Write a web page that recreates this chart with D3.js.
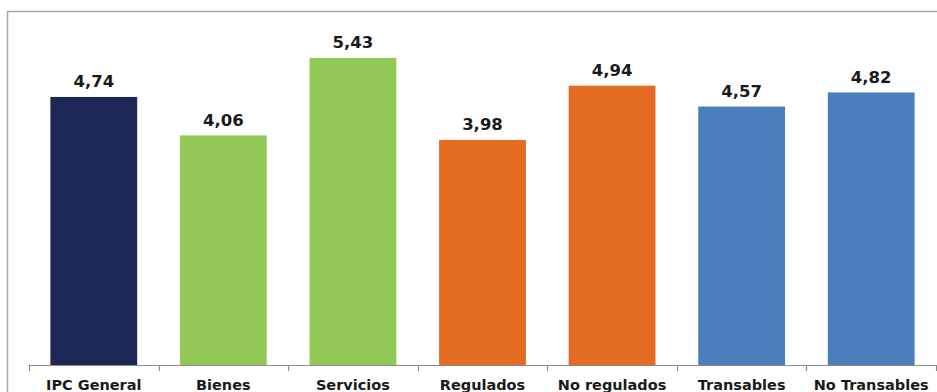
<!DOCTYPE html>
<html>
<head>
<meta charset="utf-8">
<script src="https://cdn.jsdelivr.net/npm/d3@7"></script>
<style>
  html, body { margin: 0; padding: 0; background: #ffffff; }
  svg { display: block; }
</style>
</head>
<body>
<script>
// Inflation by component
const categories = ["IPC General", "Bienes", "Servicios", "Regulados", "No regulados", "Transables", "No Transables"];
const values = [4.74, 4.06, 5.43, 3.98, 4.94, 4.57, 4.82];
const barColors = ["#1e2858", "#92c855", "#92c855", "#e36c22", "#e36c22", "#4a7ebd", "#4a7ebd"];

const W = 937, H = 392;
const baseY = 365;

const svg = d3.select("body").append("svg")
  .attr("width", W).attr("height", H);

// chart frame
svg.append("path")
  .attr("d", `M7.5,${H} V11.5 H${W}`)
  .attr("fill", "none")
  .attr("stroke", "#a6a6a6")
  .attr("stroke-width", 1.5);

const x = d3.scaleBand()
  .domain(categories)
  .range([29, 936])
  .paddingInner(0.33)
  .paddingOuter(0.165);

const y = d3.scaleLinear()
  .domain([0, 6])
  .range([baseY, baseY - 6 * 56.55]);

// bars
svg.append("g").selectAll("rect")
  .data(categories)
  .join("rect")
  .attr("x", d => x(d))
  .attr("width", x.bandwidth())
  .attr("y", (d, i) => y(values[i]))
  .attr("height", (d, i) => y(0) - y(values[i]))
  .attr("fill", (d, i) => barColors[i]);

// value labels
const fmt = v => d3.format(".2f")(v).replace(".", ",");
svg.append("g").selectAll("text")
  .data(categories)
  .join("text")
  .attr("x", d => x(d) + x.bandwidth() / 2)
  .attr("y", (d, i) => y(values[i]) - 9.5)
  .attr("text-anchor", "middle")
  .attr("font-family", "DejaVu Sans, Verdana, sans-serif")
  .attr("font-weight", "bold")
  .attr("font-size", "16.5px")
  .attr("fill", "#1a1a1a")
  .text((d, i) => fmt(values[i]));

// category axis with boundary ticks
const axisG = svg.append("g");
const step = x.step();
const edges = d3.range(categories.length + 1).map(i => 29 + i * (936 - 29) / categories.length);
axisG.append("line")
  .attr("x1", 29).attr("x2", 936)
  .attr("y1", baseY + 0.5).attr("y2", baseY + 0.5)
  .attr("stroke", "#8c8c8c").attr("stroke-width", 1.2);
axisG.selectAll("line.tick")
  .data(edges)
  .join("line")
  .attr("class", "tick")
  .attr("x1", d => Math.round(d) + 0.5).attr("x2", d => Math.round(d) + 0.5)
  .attr("y1", baseY).attr("y2", baseY + 6)
  .attr("stroke", "#8c8c8c").attr("stroke-width", 1.2);

axisG.selectAll("text")
  .data(categories)
  .join("text")
  .attr("x", d => x(d) + x.bandwidth() / 2)
  .attr("y", 390)
  .attr("text-anchor", "middle")
  .attr("font-family", "DejaVu Sans, Verdana, sans-serif")
  .attr("font-weight", "bold")
  .attr("font-size", "14.5px")
  .attr("fill", "#1a1a1a")
  .text(d => d);
</script>
</body>
</html>
